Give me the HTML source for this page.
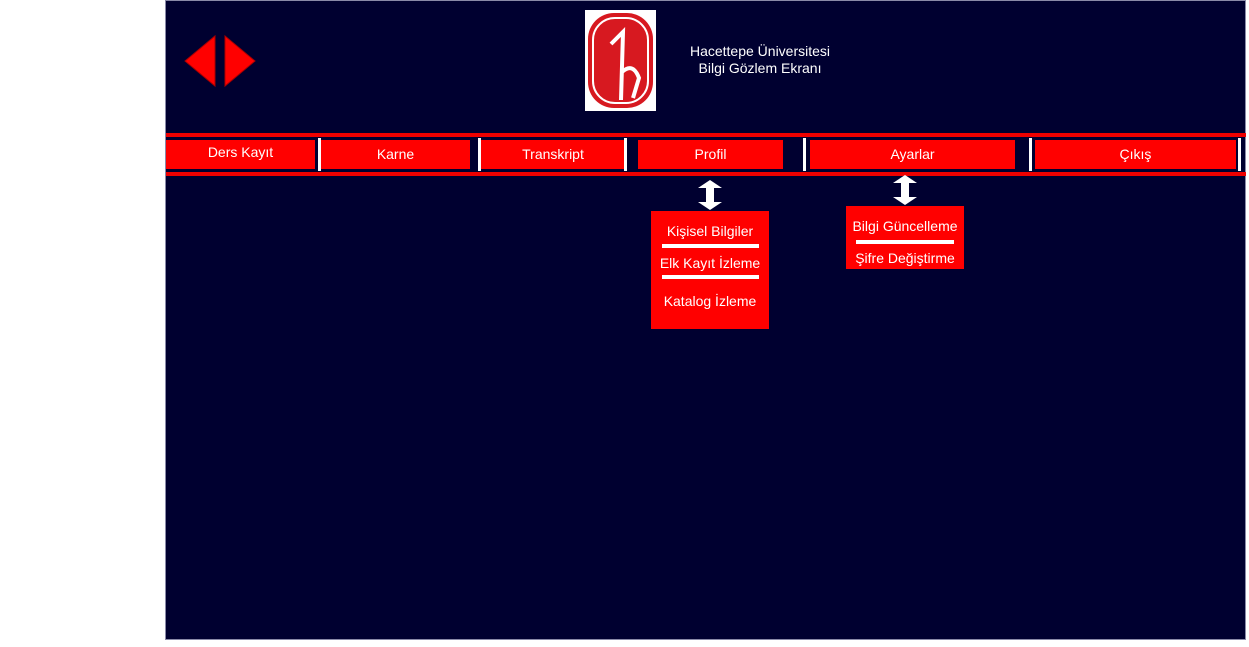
<!DOCTYPE html>
<html><head><meta charset="utf-8"><style>
body{margin:0;width:1249px;height:647px;background:#fff;position:relative;overflow:hidden;font-family:"Liberation Sans",sans-serif}
.a{position:absolute}
.bg{left:165px;top:0;width:1081px;height:640px;background:#000030;border:1px solid #8a8aa8;box-sizing:border-box}
.btn{position:absolute;background:#ff0000;color:#fff;font-size:14px;text-align:center;line-height:29px;top:140px;height:29px}
.sep{position:absolute;top:138px;width:3px;height:33px;background:#fff}
.box{position:absolute;background:#ff0000;color:#fff;font-size:14px;text-align:center}
.ln{position:absolute;height:4px;background:#fff}
</style></head><body>
<div class="a bg"></div>
<svg class="a" style="left:180px;top:30px" width="80" height="60">
<polygon points="5,31 35,6 35,56" fill="#f00" stroke="#a00"/>
<polygon points="45,6 75,31 45,56" fill="#f00" stroke="#a00"/>
</svg>
<div class="a" style="left:585px;top:10px;width:71px;height:101px;background:#fff"></div>
<svg class="a" style="left:585px;top:10px" width="71" height="101">
<rect x="3" y="3" width="65" height="95" rx="26" fill="#d71920"/>
<rect x="8" y="8" width="55" height="85" rx="22" fill="none" stroke="#fff" stroke-width="2"/>
<path d="M26 34 L38 22 L36 90 M37 62 Q48 52 54 68 L48 88" fill="none" stroke="#fff" stroke-width="4"/>
</svg>
<div class="a" style="left:660px;top:43px;width:200px;text-align:center;color:#fff;font-size:14px;line-height:17px">Hacettepe Üniversitesi<br>Bilgi Gözlem Ekranı</div>
<div class="a" style="left:166px;top:133px;width:1080px;height:4px;background:#e00"></div>
<div class="a" style="left:166px;top:172px;width:1080px;height:4px;background:#e00"></div>
<div class="btn" style="left:166px;width:149px;line-height:24px">Ders Kayıt</div>
<div class="btn" style="left:321px;width:149px">Karne</div>
<div class="btn" style="left:481px;width:144px">Transkript</div>
<div class="btn" style="left:638px;width:145px">Profil</div>
<div class="btn" style="left:810px;width:205px">Ayarlar</div>
<div class="btn" style="left:1035px;width:201px">Çıkış</div>
<div class="sep" style="left:318px"></div>
<div class="sep" style="left:478px"></div>
<div class="sep" style="left:624px"></div>
<div class="sep" style="left:803px"></div>
<div class="sep" style="left:1029px"></div>
<div class="sep" style="left:1238px"></div>
<svg class="a" style="left:697px;top:180px" width="26" height="31"><polygon points="13,0 25,8 17,8 17,22 25,22 13,30 1,22 9,22 9,8 1,8" fill="#fff"/></svg>
<svg class="a" style="left:892px;top:175px" width="26" height="31"><polygon points="13,0 25,8 17,8 17,22 25,22 13,30 1,22 9,22 9,8 1,8" fill="#fff"/></svg>
<div class="box" style="left:651px;top:211px;width:118px;height:118px">
<div class="a" style="left:0;top:12px;width:118px">Kişisel Bilgiler</div>
<div class="a" style="left:0;top:44px;width:118px">Elk Kayıt İzleme</div>
<div class="a" style="left:0;top:82px;width:118px">Katalog İzleme</div>
</div>
<div class="ln" style="left:662px;top:244px;width:97px"></div>
<div class="ln" style="left:662px;top:275px;width:97px"></div>
<div class="box" style="left:846px;top:206px;width:118px;height:63px">
<div class="a" style="left:0;top:12px;width:118px">Bilgi Güncelleme</div>
<div class="a" style="left:0;top:44px;width:118px">Şifre Değiştirme</div>
</div>
<div class="ln" style="left:856px;top:240px;width:98px"></div>
</body></html>
